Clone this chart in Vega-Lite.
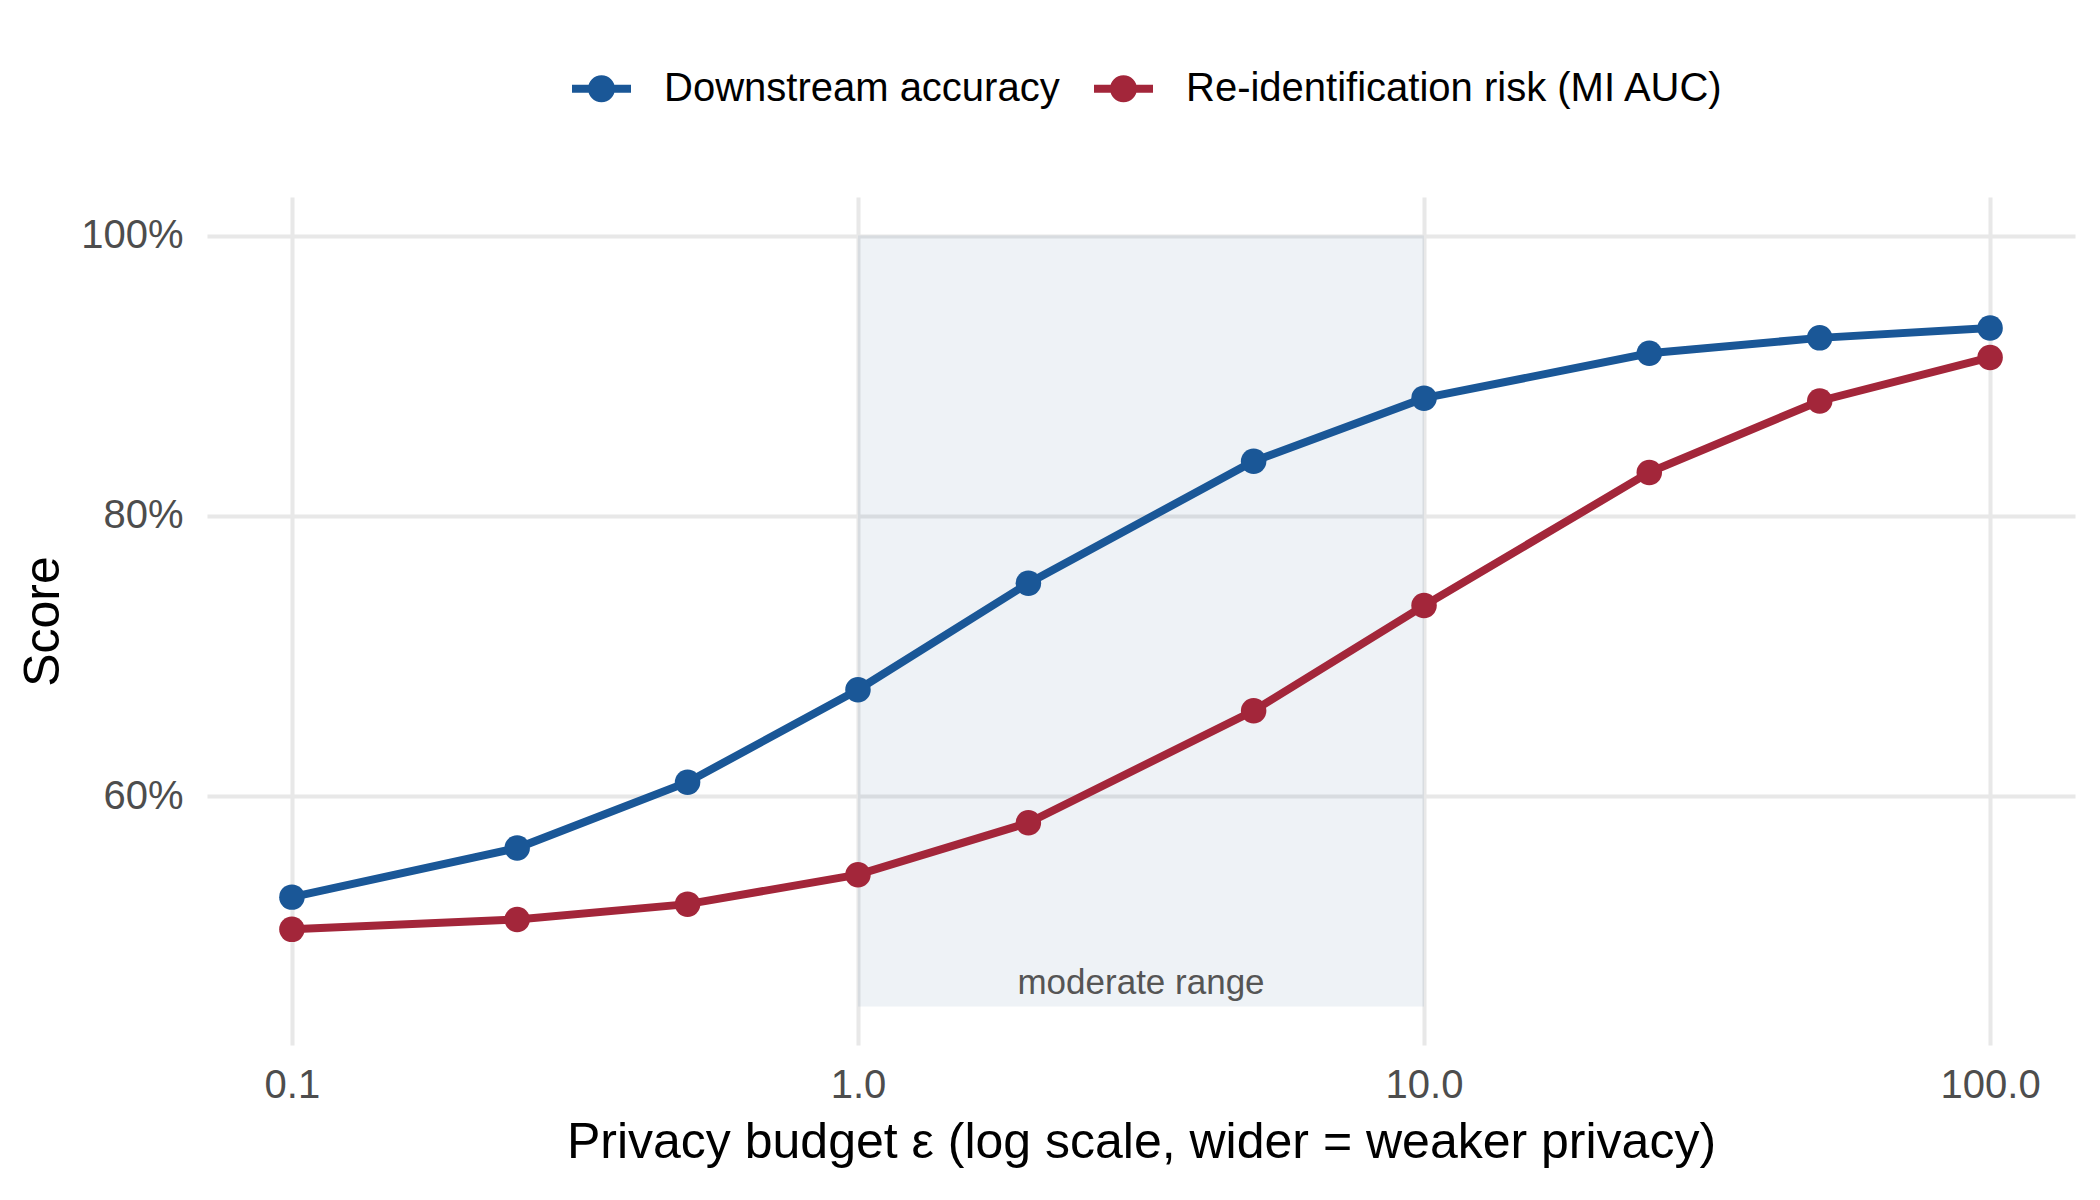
{
  "$schema": "https://vega.github.io/schema/vega-lite/v6.json",
  "width": 1868,
  "height": 848,
  "autosize": {"type": "none"},
  "padding": {"left": 207, "top": 197, "right": 25, "bottom": 155},
  "background": "white",
  "config": {
    "view": {"stroke": null},
    "font": "Liberation Sans",
    "axis": {
      "domain": false,
      "ticks": false,
      "tickSize": 0,
      "grid": true,
      "gridColor": "#e8e8e8",
      "gridWidth": 4,
      "labelFont": "Liberation Sans",
      "labelFontSize": 40,
      "labelColor": "#4d4d4d",
      "titleFont": "Liberation Sans",
      "titleFontSize": 50,
      "titleFontWeight": "normal",
      "titleColor": "#000000"
    }
  },
  "datasets": {
    "series": [
      {"epsilon": 0.1, "metric": "Downstream accuracy", "value": 0.528},
      {"epsilon": 0.25, "metric": "Downstream accuracy", "value": 0.563},
      {"epsilon": 0.5, "metric": "Downstream accuracy", "value": 0.610},
      {"epsilon": 1, "metric": "Downstream accuracy", "value": 0.676},
      {"epsilon": 2, "metric": "Downstream accuracy", "value": 0.752},
      {"epsilon": 5, "metric": "Downstream accuracy", "value": 0.839},
      {"epsilon": 10, "metric": "Downstream accuracy", "value": 0.884},
      {"epsilon": 25, "metric": "Downstream accuracy", "value": 0.916},
      {"epsilon": 50, "metric": "Downstream accuracy", "value": 0.927},
      {"epsilon": 100, "metric": "Downstream accuracy", "value": 0.934},
      {"epsilon": 0.1, "metric": "Re-identification risk (MI AUC)", "value": 0.505},
      {"epsilon": 0.25, "metric": "Re-identification risk (MI AUC)", "value": 0.512},
      {"epsilon": 0.5, "metric": "Re-identification risk (MI AUC)", "value": 0.523},
      {"epsilon": 1, "metric": "Re-identification risk (MI AUC)", "value": 0.544},
      {"epsilon": 2, "metric": "Re-identification risk (MI AUC)", "value": 0.581},
      {"epsilon": 5, "metric": "Re-identification risk (MI AUC)", "value": 0.661},
      {"epsilon": 10, "metric": "Re-identification risk (MI AUC)", "value": 0.736},
      {"epsilon": 25, "metric": "Re-identification risk (MI AUC)", "value": 0.831},
      {"epsilon": 50, "metric": "Re-identification risk (MI AUC)", "value": 0.882},
      {"epsilon": 100, "metric": "Re-identification risk (MI AUC)", "value": 0.913}
    ],
    "band": [
      {"epsilon": 1, "epsilon_end": 10, "value": 0.45, "value_end": 1.0}
    ],
    "note": [
      {"epsilon": 3.1623, "value": 0.459, "label": "moderate range"}
    ]
  },
  "encoding": {
    "x": {
      "field": "epsilon",
      "type": "quantitative",
      "scale": {"type": "log", "domain": [0.070795, 141.254], "nice": false},
      "axis": {
        "values": [0.1, 1, 10, 100],
        "format": ".1f",
        "labelPadding": 20,
        "titlePadding": 12,
        "title": "Privacy budget ε (log scale, wider = weaker privacy)"
      }
    },
    "y": {
      "field": "value",
      "type": "quantitative",
      "scale": {"domain": [0.4225, 1.0275], "nice": false, "zero": false},
      "axis": {
        "values": [0.6, 0.8, 1.0],
        "format": ".0%",
        "labelPadding": 24,
        "titlePadding": 12,
        "title": "Score"
      }
    }
  },
  "layer": [
    {
      "data": {"name": "band"},
      "mark": {"type": "rect", "fill": "#2b5c8a", "opacity": 0.08},
      "encoding": {
        "x2": {"field": "epsilon_end"},
        "y2": {"field": "value_end"}
      }
    },
    {
      "data": {"name": "note"},
      "mark": {"type": "text", "font": "Liberation Sans", "fontSize": 35, "color": "#555555", "baseline": "alphabetic", "align": "center"},
      "encoding": {
        "text": {"field": "label"}
      }
    },
    {
      "data": {"name": "series"},
      "mark": {"type": "line", "strokeWidth": 8},
      "encoding": {
        "color": {
          "field": "metric",
          "type": "nominal",
          "scale": {
            "domain": ["Downstream accuracy", "Re-identification risk (MI AUC)"],
            "range": ["#1a5797", "#a3263a"]
          },
          "legend": {
            "orient": "none",
            "legendX": 365,
            "legendY": -138,
            "direction": "horizontal",
            "title": null,
            "padding": 0,
            "symbolType": "M-1,-0.136H1V0.136H-1Z M-0.458,0 A0.458,0.458 0 1,1 0.458,0 A0.458,0.458 0 1,1 -0.458,0 Z",
            "symbolSize": 3481,
            "symbolStrokeWidth": 0,
            "labelFont": "Liberation Sans",
            "labelFontSize": 40,
            "labelColor": "#000000",
            "labelLimit": 0,
            "labelOffset": 33,
            "columnPadding": 34,
            "encode": {
              "symbols": {
                "update": {
                  "fill": {"scale": "color", "field": "value"},
                  "stroke": {"value": "transparent"},
                  "strokeWidth": {"value": 0},
                  "opacity": {"value": 1}
                }
              }
            }
          }
        },
        "detail": {"field": "metric"}
      }
    },
    {
      "data": {"name": "series"},
      "mark": {"type": "point", "filled": true, "size": 650, "opacity": 1, "strokeWidth": 0},
      "encoding": {
        "color": {"field": "metric", "type": "nominal"}
      }
    }
  ]
}
